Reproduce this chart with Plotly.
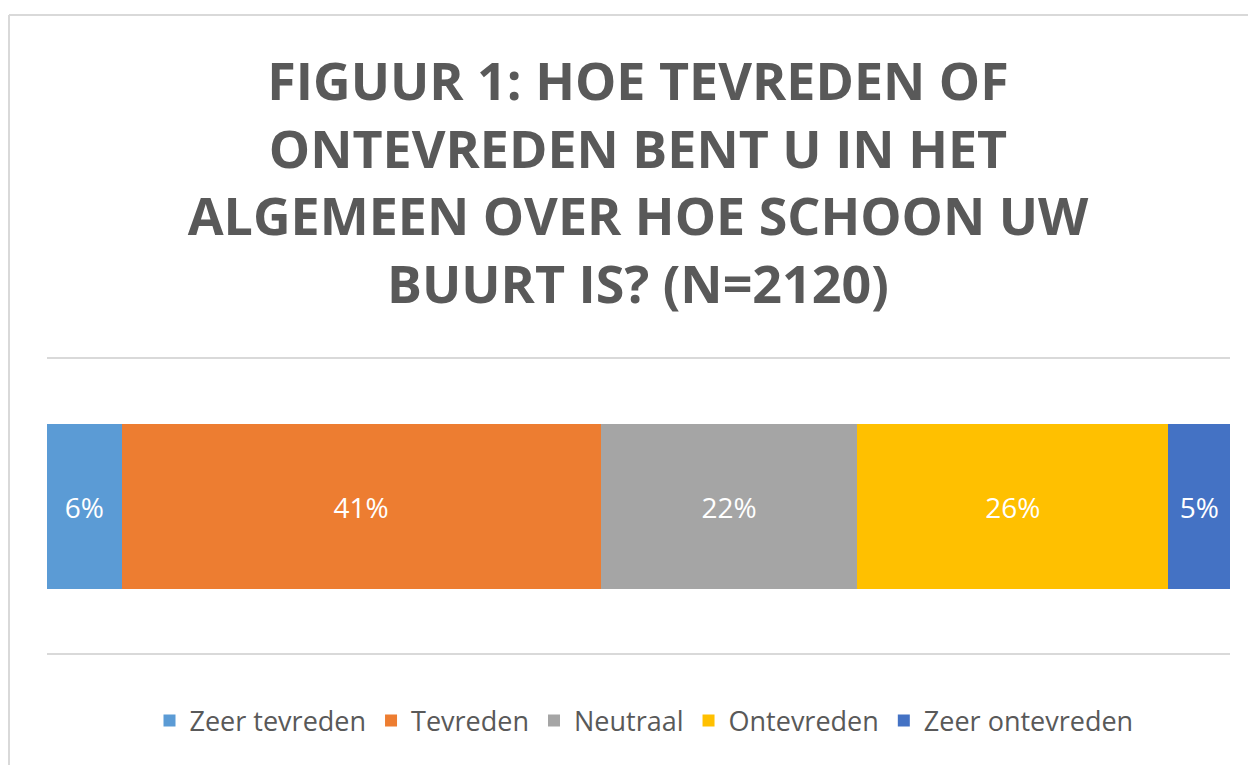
import plotly.graph_objects as go

categories = ["Zeer tevreden", "Tevreden", "Neutraal", "Ontevreden", "Zeer ontevreden"]
values = [6.3, 40.5, 21.7, 26.3, 5.2]
labels = ["6%", "41%", "22%", "26%", "5%"]
colors = ["#5b9bd5", "#ed7d31", "#a5a5a5", "#ffc000", "#4472c4"]
title_lines = ["FIGUUR 1: HOE TEVREDEN OF", "ONTEVREDEN BENT U IN HET",
               "ALGEMEEN OVER HOE SCHOON UW", "BUURT IS? (N=2120)"]

# page has an 8px body margin; work in screenshot pixels and convert
OFF = 8
W, H = 1256 - OFF, 765 - OFF
PX_L, PX_R, PX_T, PX_B = 47, 1230, 358, 655  # plot area in screenshot px
L = PX_L - OFF
T = PX_T - OFF
R = W - (PX_R - OFF)
B = H - (PX_B - OFF)
pw, ph = PX_R - PX_L, PX_B - PX_T

fig = go.Figure()
for cat, val, lab, col in zip(categories, values, labels, colors):
    fig.add_trace(go.Bar(
        y=[""], x=[val], name=cat, orientation="h",
        marker=dict(color=col, line=dict(width=0)),
        text=[lab], textposition="inside", insidetextanchor="middle",
        textangle=0,
        textfont=dict(color="white", size=28, family="Open Sans"),
        hoverinfo="name+x",
    ))

def px_x(p):
    return (p - PX_L) / pw

def px_y(p):
    return (PX_B - p) / ph

shapes = [
    dict(type="line", xref="paper", yref="paper", x0=0, x1=1, y0=px_y(654), y1=px_y(654),
         line=dict(color="#d9d9d9", width=2), layer="below"),
    dict(type="line", xref="paper", yref="paper", x0=0, x1=1, y0=px_y(358), y1=px_y(358),
         line=dict(color="#d9d9d9", width=2), layer="below"),
    dict(type="line", xref="paper", yref="paper", x0=px_x(9), x1=px_x(9),
         y0=px_y(15), y1=px_y(800), line=dict(color="#d9d9d9", width=2)),
    dict(type="line", xref="paper", yref="paper", x0=px_x(9), x1=px_x(1300),
         y0=px_y(15), y1=px_y(15), line=dict(color="#d9d9d9", width=2)),
]

fig.update_layout(
    width=W, height=H,
    margin=dict(l=L, r=R, t=T, b=B, autoexpand=False),
    paper_bgcolor="white", plot_bgcolor="white",
    barmode="stack", bargap=0.443,
    title=dict(
        text="<br>".join(title_lines),
        x=(638 - OFF) / W, xanchor="center", xref="container",
        y=1 - 92 / H, yanchor="top", yref="container",
        font=dict(family="Open Sans", size=52, color="#595959", weight="bold"),
    ),
    xaxis=dict(range=[0, 100], visible=False, fixedrange=True),
    yaxis=dict(visible=False, range=[-0.5, 0.5]),
    showlegend=True,
    legend=dict(
        orientation="h", x=px_x(644), xanchor="center",
        y=px_y(721), yanchor="middle",
        font=dict(family="Open Sans", size=27, color="#595959"),
        traceorder="normal", itemclick=False, itemdoubleclick=False,
    ),
    shapes=shapes,
)

fig.write_html("out.html")
